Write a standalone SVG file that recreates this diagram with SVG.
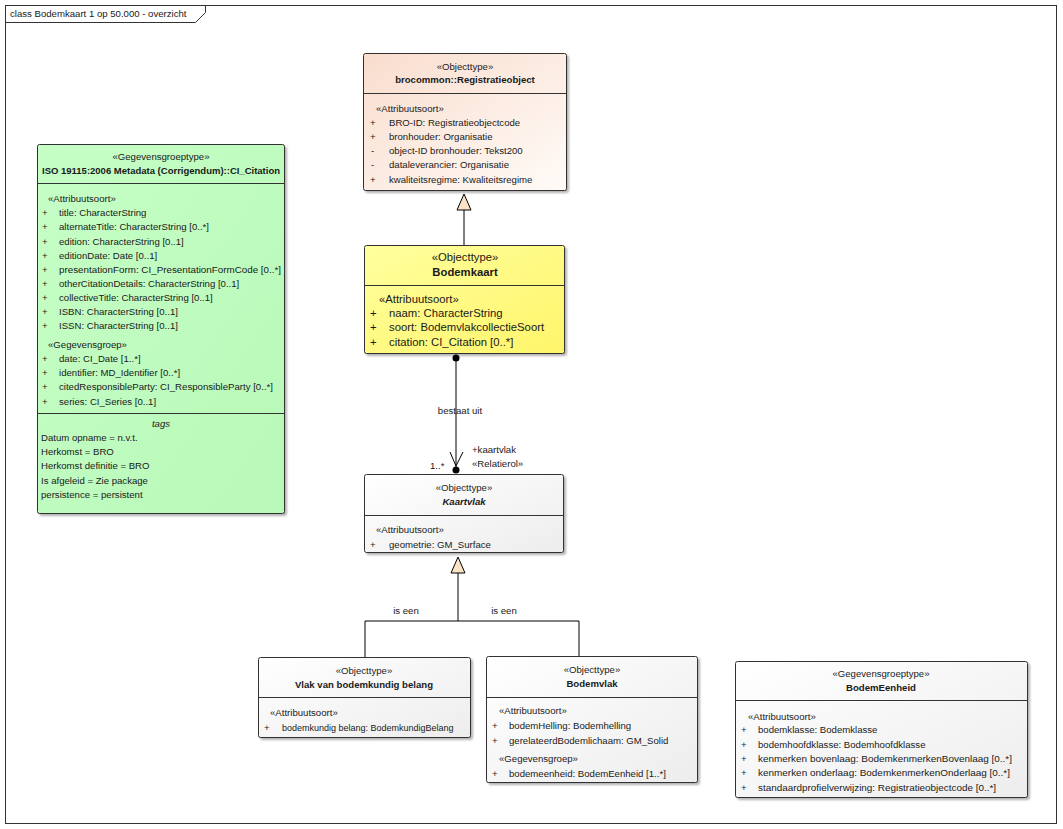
<svg xmlns="http://www.w3.org/2000/svg" width="1063" height="829" viewBox="0 0 1063 829">
<style>
text{font-family:"Liberation Sans",Arial,sans-serif;font-size:9.6px;fill:#1a1a1a}
.c{text-anchor:middle}
.b{font-weight:bold}
.i{font-style:italic}
.l{font-size:11.3px}
.s{font-size:9px}
.box{stroke:#333;stroke-width:1}
.sep{stroke:#333;stroke-width:1}
.ln{stroke:#000;stroke-width:1;fill:none}
</style>
<defs>
<filter id="sh" x="-5%" y="-5%" width="110%" height="110%"><feDropShadow dx="2" dy="2" stdDeviation="1.2" flood-color="#000" flood-opacity="0.3"/></filter>
<linearGradient id="gPeach" x1="0" y1="0" x2="1" y2="1"><stop offset="0" stop-color="#F9DDCD"/><stop offset="1" stop-color="#FFFBF8"/></linearGradient>
<linearGradient id="gYel" x1="0" y1="0" x2="1" y2="1"><stop offset="0" stop-color="#FFFF9E"/><stop offset="1" stop-color="#FFF56A"/></linearGradient>
<linearGradient id="gGreen" x1="0" y1="0" x2="1" y2="1"><stop offset="0" stop-color="#C6FFC6"/><stop offset="1" stop-color="#B8F8B8"/></linearGradient>
<linearGradient id="gGrey" x1="0" y1="0" x2="1" y2="1"><stop offset="0" stop-color="#FFFFFF"/><stop offset="1" stop-color="#EDEDED"/></linearGradient>
</defs>
<rect width="1063" height="829" fill="#fff"/>
<g id="frame">
<rect x="5.5" y="5.5" width="1051" height="818" fill="none" stroke="#333"/>
<path d="M5.5,22.5 H195.5 L205.5,12.5 V5.5" fill="none" stroke="#333"/>
<text x="10" y="17">class Bodemkaart 1 op 50.000 - overzicht</text>
</g>
<g id="connectors">
<path class="ln" d="M464,210 V245"/>
<polygon points="464,194 457,210 471,210" fill="#FBE3C4" stroke="#000"/>
<path class="ln" d="M456,358 V470"/>
<circle cx="456" cy="358" r="3.5" fill="#000"/>
<circle cx="456" cy="470" r="3.5" fill="#000"/>
<path class="ln" d="M450,452 L456,466 L463,452"/>
<text class="c" x="460" y="414">bestaat uit</text>
<text x="472" y="453">+kaartvlak</text>
<text x="472" y="467">«Relatierol»</text>
<text x="430" y="469">1..*</text>
<path class="ln" d="M458,573 V621 M365,657 V621 H579 V656"/>
<polygon points="458,557 451,573 465,573" fill="#FBE3C4" stroke="#000"/>
<text class="c" x="406" y="614">is een</text>
<text class="c" x="504" y="614">is een</text>
</g>
<g id="registratieobject">
<rect class="box" x="363.5" y="53.5" width="203" height="137" rx="2" fill="url(#gPeach)" filter="url(#sh)"/>
<line class="sep" x1="363.5" y1="93.5" x2="566.5" y2="93.5"/>
<text class="c" x="465" y="70">«Objecttype»</text>
<text class="c b" x="465" y="83">brocommon::Registratieobject</text>
<text x="376" y="112">«Attribuutsoort»</text>
<text x="370" y="126">+</text><text x="389" y="126">BRO-ID: Registratieobjectcode</text>
<text x="370" y="140">+</text><text x="389" y="140">bronhouder: Organisatie</text>
<text x="371" y="154">-</text><text x="389" y="154">object-ID bronhouder: Tekst200</text>
<text x="371" y="168">-</text><text x="389" y="168">dataleverancier: Organisatie</text>
<text x="370" y="183">+</text><text x="389" y="183">kwaliteitsregime: Kwaliteitsregime</text>
</g>
<g id="bodemkaart">
<rect class="box" x="364.5" y="245.5" width="200" height="108" rx="2" fill="url(#gYel)" filter="url(#sh)"/>
<line class="sep" x1="364.5" y1="285.5" x2="564.5" y2="285.5"/>
<text class="c l" x="465" y="261">«Objecttype»</text>
<text class="c b l" x="465" y="276">Bodemkaart</text>
<text class="l" x="379" y="303">«Attribuutsoort»</text>
<text class="l" x="370" y="317">+</text><text class="l" x="389" y="317">naam: CharacterString</text>
<text class="l" x="370" y="331">+</text><text class="l" x="389" y="331">soort: BodemvlakcollectieSoort</text>
<text class="l" x="370" y="346">+</text><text class="l" x="389" y="346">citation: CI_Citation [0..*]</text>
</g>
<g id="kaartvlak">
<rect class="box" x="364.5" y="474.5" width="199" height="78" rx="2" fill="url(#gGrey)" filter="url(#sh)"/>
<line class="sep" x1="364.5" y1="515.5" x2="563.5" y2="515.5"/>
<text class="c" x="464" y="491">«Objecttype»</text>
<text class="c b i" x="464" y="505">Kaartvlak</text>
<text x="376" y="533">«Attribuutsoort»</text>
<text x="370" y="548">+</text><text x="389" y="548">geometrie: GM_Surface</text>
</g>
<g id="ci_citation">
<rect class="box" x="37.5" y="144.5" width="247" height="369" rx="2" fill="url(#gGreen)" filter="url(#sh)"/>
<line class="sep" x1="37.5" y1="183.5" x2="284.5" y2="183.5"/>
<line class="sep" x1="37.5" y1="413.5" x2="284.5" y2="413.5"/>
<text class="c" x="161" y="160">«Gegevensgroeptype»</text>
<text class="c b" x="161" y="174" textLength="238" lengthAdjust="spacingAndGlyphs">ISO 19115:2006 Metadata (Corrigendum)::CI_Citation</text>
<text x="48" y="202">«Attribuutsoort»</text>
<text x="42" y="216">+</text><text x="59" y="216">title: CharacterString</text>
<text x="42" y="230">+</text><text x="59" y="230">alternateTitle: CharacterString [0..*]</text>
<text x="42" y="245">+</text><text x="59" y="245">edition: CharacterString [0..1]</text>
<text x="42" y="259">+</text><text x="59" y="259">editionDate: Date [0..1]</text>
<text x="42" y="273">+</text><text x="59" y="273" textLength="222" lengthAdjust="spacingAndGlyphs">presentationForm: CI_PresentationFormCode [0..*]</text>
<text x="42" y="287">+</text><text x="59" y="287">otherCitationDetails: CharacterString [0..1]</text>
<text x="42" y="301">+</text><text x="59" y="301">collectiveTitle: CharacterString [0..1]</text>
<text x="42" y="315">+</text><text x="59" y="315">ISBN: CharacterString [0..1]</text>
<text x="42" y="329">+</text><text x="59" y="329">ISSN: CharacterString [0..1]</text>
<text x="48" y="348">«Gegevensgroep»</text>
<text x="42" y="362">+</text><text x="59" y="362">date: CI_Date [1..*]</text>
<text x="42" y="376">+</text><text x="59" y="376">identifier: MD_Identifier [0..*]</text>
<text x="42" y="390">+</text><text x="59" y="390" textLength="214" lengthAdjust="spacingAndGlyphs">citedResponsibleParty: CI_ResponsibleParty [0..*]</text>
<text x="42" y="405">+</text><text x="59" y="405">series: CI_Series [0..1]</text>
<text class="c i" x="161" y="427">tags</text>
<text x="41" y="441">Datum opname = n.v.t.</text>
<text x="41" y="455">Herkomst = BRO</text>
<text x="41" y="469">Herkomst definitie = BRO</text>
<text x="41" y="484">Is afgeleid = Zie package</text>
<text x="41" y="498">persistence = persistent</text>
</g>
<g id="vlak_van_bodemkundig_belang">
<rect class="box" x="258.5" y="657.5" width="212" height="80" rx="2" fill="url(#gGrey)" filter="url(#sh)"/>
<line class="sep" x1="258.5" y1="697.5" x2="470.5" y2="697.5"/>
<text class="c" x="364" y="674">«Objecttype»</text>
<text class="c b" x="364" y="688">Vlak van bodemkundig belang</text>
<text x="270" y="716">«Attribuutsoort»</text>
<text x="264" y="731">+</text><text class="s" x="282" y="731">bodemkundig belang: BodemkundigBelang</text>
</g>
<g id="bodemvlak">
<rect class="box" x="486.5" y="656.5" width="211" height="126" rx="2" fill="url(#gGrey)" filter="url(#sh)"/>
<line class="sep" x1="486.5" y1="697.5" x2="697.5" y2="697.5"/>
<text class="c" x="592" y="673">«Objecttype»</text>
<text class="c b" x="592" y="687">Bodemvlak</text>
<text x="499" y="714">«Attribuutsoort»</text>
<text x="492" y="729">+</text><text x="509" y="729">bodemHelling: Bodemhelling</text>
<text x="492" y="744">+</text><text x="509" y="744">gerelateerdBodemlichaam: GM_Solid</text>
<text x="499" y="762">«Gegevensgroep»</text>
<text x="492" y="777">+</text><text x="509" y="777">bodemeenheid: BodemEenheid [1..*]</text>
</g>
<g id="bodemeenheid">
<rect class="box" x="735.5" y="661.5" width="292" height="136" rx="2" fill="url(#gGrey)" filter="url(#sh)"/>
<line class="sep" x1="735.5" y1="700.5" x2="1027.5" y2="700.5"/>
<text class="c" x="881" y="677">«Gegevensgroeptype»</text>
<text class="c b" x="881" y="691">BodemEenheid</text>
<text x="748" y="720">«Attribuutsoort»</text>
<text x="741" y="733">+</text><text x="758" y="733">bodemklasse: Bodemklasse</text>
<text x="741" y="748">+</text><text x="758" y="748">bodemhoofdklasse: Bodemhoofdklasse</text>
<text x="741" y="762">+</text><text x="758" y="762" textLength="254" lengthAdjust="spacingAndGlyphs">kenmerken bovenlaag: BodemkenmerkenBovenlaag [0..*]</text>
<text x="741" y="776">+</text><text x="758" y="776" textLength="252" lengthAdjust="spacingAndGlyphs">kenmerken onderlaag: BodemkenmerkenOnderlaag [0..*]</text>
<text x="741" y="791">+</text><text x="758" y="791" textLength="238" lengthAdjust="spacingAndGlyphs">standaardprofielverwijzing: Registratieobjectcode [0..*]</text>
</g>
</svg>
